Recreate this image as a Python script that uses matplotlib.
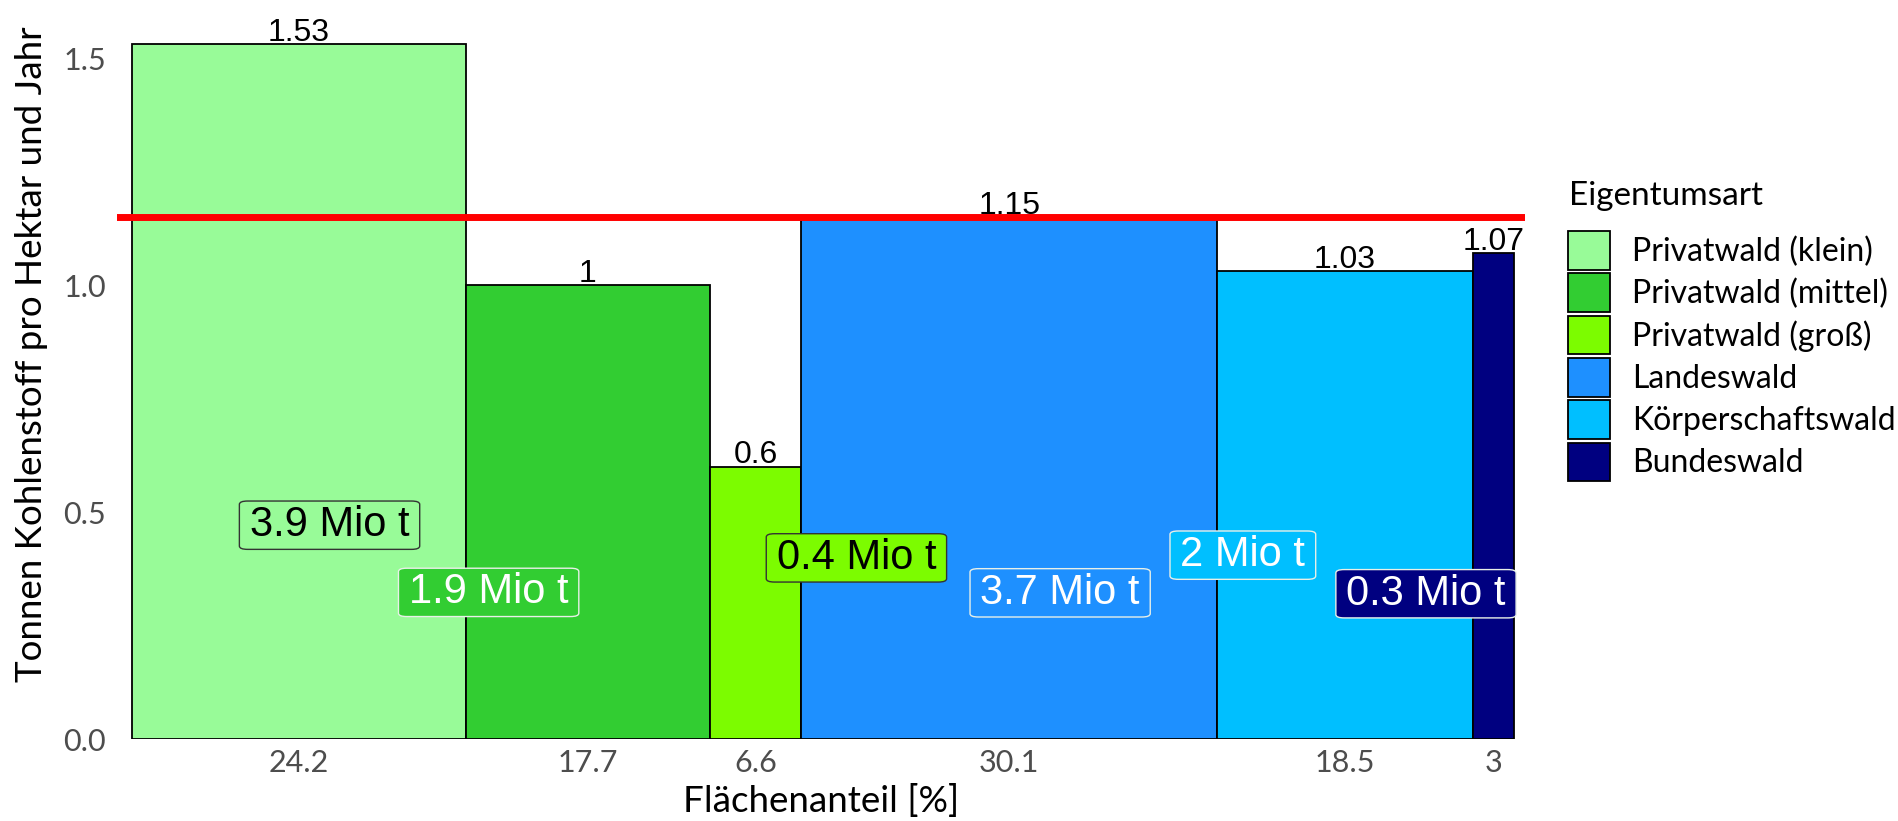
import matplotlib.pyplot as plt
from matplotlib.patches import Patch
import numpy as np

# Kohlenstoffbindung nach Eigentumsart
eigentumsart = ['Privatwald (klein)', 'Privatwald (mittel)', 'Privatwald (groß)',
                'Landeswald', 'Körperschaftswald', 'Bundeswald']
flaechenanteil = [24.2, 17.7, 6.6, 30.1, 18.5, 3]
kohlenstoff = [1.53, 1, 0.6, 1.15, 1.03, 1.07]
mio_t = ['3.9', '1.9', '0.4', '3.7', '2', '0.3']
mittelwert = 1.15

farben = ['#98FB98', '#32CD32', '#7CFC00', '#1E90FF', '#00BFFF', '#000080']
textfarben = ['black', 'white', 'black', 'white', 'white', 'white']

# Lage der Mio-t-Beschriftungen (wie abgestossen)
label_x = [14.34, 25.86, 52.49, 67.24, 80.47, 93.73]
label_y = [0.471, 0.323, 0.399, 0.322, 0.405, 0.320]

helv = ['Liberation Sans', 'DejaVu Sans']
plt.rcParams['font.family'] = ['Lato', 'DejaVu Sans']

fig = plt.figure(figsize=(18.99, 8.21), dpi=100)
ax = fig.add_axes([117/1899, 82/821, (1525-117)/1899, (739-5)/821])

breite = np.array(flaechenanteil)
links = np.concatenate([[0], np.cumsum(breite)[:-1]])
mitte = links + breite / 2

ax.bar(links, kohlenstoff, width=breite, align='edge', color=farben,
       edgecolor='black', linewidth=1.3, zorder=2)

for xm, h in zip(mitte, kohlenstoff):
    ax.text(xm, h + 0.007, '{:g}'.format(h), ha='center', va='baseline',
            fontsize=23, family=helv, color='black', zorder=3)

ax.axhline(mittelwert, color='red', linewidth=5, zorder=4)

# Beschriftungskaesten: seitlich mehr Rand als oben/unten
for x, y, t, fc, tc in zip(label_x, label_y, mio_t, farben, textfarben):
    ec = '#333333' if tc == 'black' else '#E8F0E8'
    ax.text(x, y, t + ' Mio t', ha='center', va='center', fontsize=30,
            family=helv, color=tc, zorder=6,
            bbox=dict(boxstyle='round,pad=0.25,rounding_size=0.2',
                      mutation_aspect=0.4, fc=fc, ec=ec, lw=1.0))

ax.set_xlim(-1.05, 100.9)
ax.set_ylim(0, 1.617)
ax.set_xticks(mitte)
ax.set_xticklabels(['{:g}'.format(b) for b in flaechenanteil])
ax.set_yticks([0, 0.5, 1.0, 1.5])
ax.set_yticklabels(['0.0', '0.5', '1.0', '1.5'])
ax.tick_params(length=0, labelsize=22, labelcolor='#4D4D4D')
ax.tick_params(axis='x', pad=7)
ax.tick_params(axis='y', pad=8)
for s in ax.spines.values():
    s.set_visible(False)

ax.set_xlabel('Flächenanteil [%]', fontsize=26.5, labelpad=5)
ax.set_ylabel('Tonnen Kohlenstoff pro Hektar und Jahr', fontsize=26.5)
ax.yaxis.set_label_coords(-0.049, 0.5245)

# Legende
fig.text(1569/1899, 1 - 205/821, 'Eigentumsart', fontsize=24,
         ha='left', va='baseline')
handles = [Patch(facecolor=f, edgecolor='black', linewidth=1.3) for f in farben]
fs = 23
em = fs * 100 / 72
fig.legend(handles, eigentumsart, loc='upper left',
           bbox_to_anchor=(1568/1899, 1 - 231/821), frameon=False,
           fontsize=fs, handlelength=42/em, handleheight=47.5/em,
           labelspacing=3.6/em, handletextpad=22/em, borderpad=0,
           borderaxespad=0)

fig.savefig('out.png', dpi=100)
